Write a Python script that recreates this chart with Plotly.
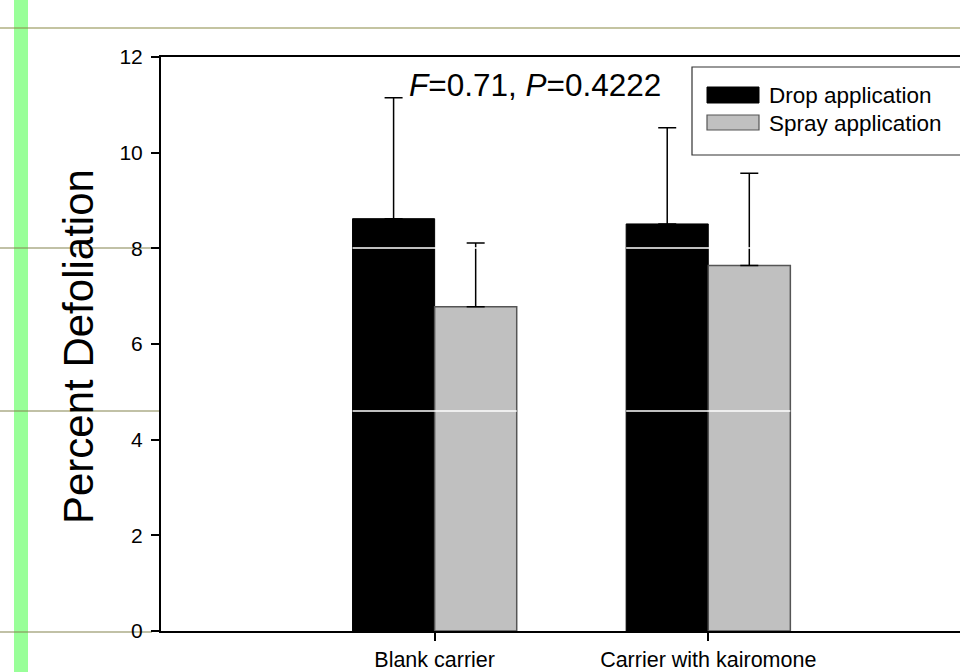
import plotly.graph_objects as go

# Treatment groups and measured defoliation (mean and upper SE)
categories = ["Blank carrier", "Carrier with kairomone"]
series_names = ["Drop application", "Spray application"]
drop_mean = [8.62, 8.51]
drop_err = [2.53, 2.01]
spray_mean = [6.78, 7.64]
spray_err = [1.33, 1.93]
y_ticks = [0, 2, 4, 6, 8, 10, 12]
stats_text = "<i>F</i>=0.71, <i>P</i>=0.4222"
y_title = "Percent Defoliation"

W, H = 960, 672
ML, MR, MT, MB = 161, 0, 57, 41
PW, PH = W - ML - MR, H - MT - MB


def px(x):
    return (x - ML) / PW


def py(y):
    return (H - MB - y) / PH


FONT = "Arial, Liberation Sans, sans-serif"
OLIVE = "#8a8a44"
GREY = "#c0c0c0"

fig = go.Figure()
fig.add_trace(go.Bar(
    x=categories, y=drop_mean, name=series_names[0],
    marker=dict(color="black", line=dict(color="black", width=1)),
    error_y=dict(type="data", array=drop_err, arrayminus=[0, 0], symmetric=False,
                 color="black", thickness=1.5, width=9),
    showlegend=False,
))
fig.add_trace(go.Bar(
    x=categories, y=spray_mean, name=series_names[1],
    marker=dict(color=GREY, line=dict(color="#555555", width=1.5)),
    error_y=dict(type="data", array=spray_err, arrayminus=[0, 0], symmetric=False,
                 color="black", thickness=1.5, width=9),
    showlegend=False,
))

shapes = []
# page background strip and rules
shapes.append(dict(type="rect", xref="paper", yref="paper", layer="below",
                   x0=px(14), x1=px(28), y0=py(0), y1=py(H),
                   fillcolor="#99ff99", line=dict(width=0)))
shapes.append(dict(type="line", xref="paper", yref="paper", layer="above",
                   x0=px(0), x1=px(W), y0=py(28), y1=py(28),
                   line=dict(color=OLIVE, width=1.2)))
for yy, xe in [(248, 161), (411, 161), (632, 152)]:
    shapes.append(dict(type="line", xref="paper", yref="paper", layer="below",
                       x0=px(0), x1=px(xe), y0=py(yy), y1=py(yy),
                       line=dict(color="#84844e", width=1.2)))
# rule lines crossing the bars
for i in range(len(categories)):
    for yy in (248, 411):
        shapes.append(dict(type="line", xref="x", yref="paper", layer="above",
                           x0=i - 0.3, x1=i + 0.3, y0=py(yy), y1=py(yy),
                           line=dict(color="white", width=1.5)))

# legend box
shapes.append(dict(type="rect", xref="paper", yref="paper", layer="above",
                   x0=px(692), x1=px(975), y0=py(155), y1=py(67),
                   fillcolor="white", line=dict(color="#333333", width=1.2)))
shapes.append(dict(type="rect", xref="paper", yref="paper", layer="above",
                   x0=px(707), x1=px(759), y0=py(103), y1=py(87),
                   fillcolor="black", line=dict(color="black", width=1)))
shapes.append(dict(type="rect", xref="paper", yref="paper", layer="above",
                   x0=px(707), x1=px(759), y0=py(130), y1=py(115),
                   fillcolor=GREY, line=dict(color="#555555", width=1.2)))

annotations = [
    dict(text=series_names[0], xref="paper", yref="paper", x=px(767), y=py(95),
         xanchor="left", yanchor="middle", showarrow=False,
         font=dict(family=FONT, size=22.5, color="black")),
    dict(text=series_names[1], xref="paper", yref="paper", x=px(767), y=py(123),
         xanchor="left", yanchor="middle", showarrow=False,
         font=dict(family=FONT, size=22.5, color="black")),
    dict(text=stats_text, xref="paper", yref="paper", x=px(407), y=py(85),
         xanchor="left", yanchor="middle", showarrow=False,
         font=dict(family=FONT, size=31.5, color="black")),
    dict(text=y_title, xref="paper", yref="paper", x=px(78), y=py(347),
         xanchor="center", yanchor="middle", showarrow=False, textangle=-90,
         font=dict(family=FONT, size=42, color="black")),
]

fig.update_layout(
    width=W, height=H,
    margin=dict(l=ML, r=MR, t=MT, b=MB, pad=0, autoexpand=False),
    paper_bgcolor="white", plot_bgcolor="white",
    barmode="group", bargap=0.4, bargroupgap=0,
    font=dict(family=FONT, color="black"),
    shapes=shapes, annotations=annotations,
    xaxis=dict(type="category", range=[-1.0, 1.92], showline=True, linecolor="black",
               linewidth=2, mirror=True, ticks="outside", ticklen=8, tickwidth=1.5,
               tickcolor="black", showgrid=False, zeroline=False, automargin=False,
               tickfont=dict(family=FONT, size=21.5), ticklabelstandoff=0),
    yaxis=dict(range=[0, 12], tickvals=y_ticks, showline=True, linecolor="black",
               linewidth=2, ticks="outside", ticklen=8, tickwidth=1.5,
               tickcolor="black", showgrid=False, zeroline=False, automargin=False,
               tickfont=dict(family=FONT, size=21), ticklabelstandoff=4),
)

fig.write_html("out.html")
